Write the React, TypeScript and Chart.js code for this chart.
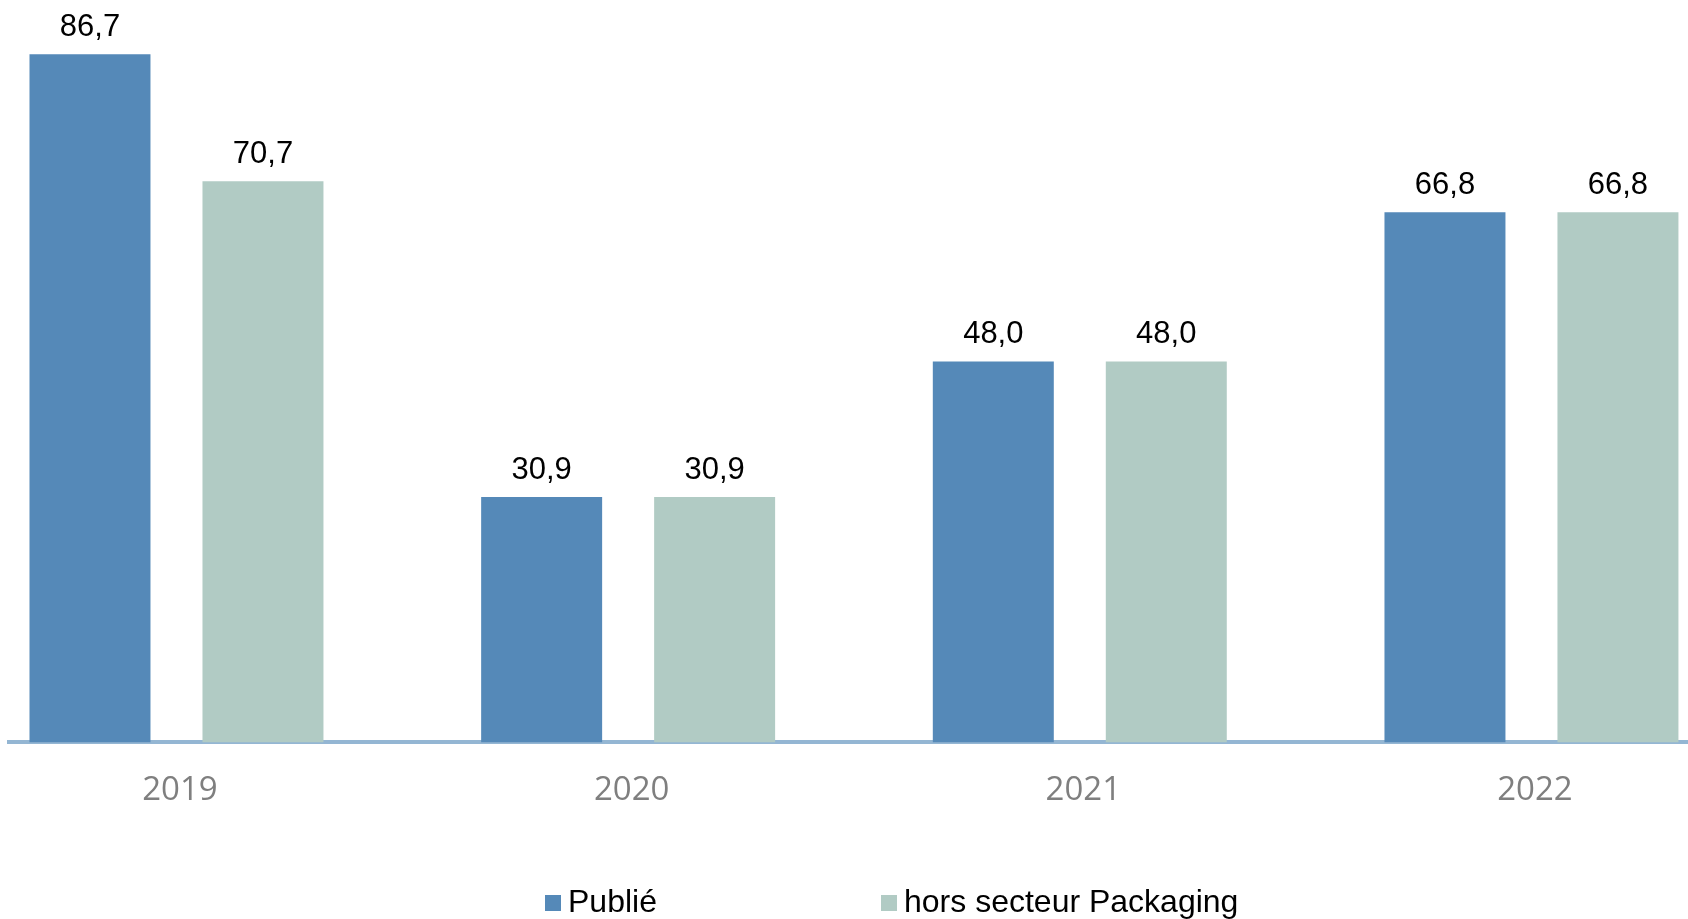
import React, { useEffect, useRef } from "react";
import { Chart, registerables } from "chart.js";

Chart.register(...registerables);

const categories = ["2019", "2020", "2021", "2022"];
const seriesNames = ["Publié", "hors secteur Packaging"];
const publieValues = [86.7, 30.9, 48.0, 66.8];
const horsPackagingValues = [70.7, 30.9, 48.0, 66.8];

const BLUE = "#5589B8";
const GREEN = "#B1CBC4";
const AXIS = "#94B6D3";

const fmt = (v: number) => v.toFixed(1).replace(".", ",");

const dataLabelsPlugin = {
  id: "dataLabels",
  afterDatasetsDraw(chart: any) {
    const ctx = chart.ctx;
    ctx.save();
    ctx.font = '31px "Liberation Sans", Arial, sans-serif';
    ctx.fillStyle = "#000000";
    ctx.textAlign = "center";
    ctx.textBaseline = "alphabetic";
    chart.data.datasets.forEach((ds: any, di: number) => {
      const meta = chart.getDatasetMeta(di);
      meta.data.forEach((el: any, i: number) => {
        const v = ds.data[i].y;
        ctx.fillText(fmt(v), el.x, el.y - 18.5);
      });
    });
    ctx.restore();
  },
};

const legendPlugin = {
  id: "customLegend",
  afterDraw(chart: any) {
    const ctx = chart.ctx;
    const items = [
      { label: seriesNames[0], color: BLUE, x: 545 },
      { label: seriesNames[1], color: GREEN, x: 881 },
    ];
    ctx.save();
    ctx.font = '32px "Liberation Sans", Arial, sans-serif';
    ctx.textAlign = "left";
    ctx.textBaseline = "alphabetic";
    items.forEach((it) => {
      ctx.fillStyle = it.color;
      ctx.fillRect(it.x, 895, 16, 16);
      ctx.fillStyle = "#000000";
      ctx.fillText(it.label, it.x + 23, 912);
    });
    ctx.restore();
  },
};

export default function App() {
  const ref = useRef<HTMLCanvasElement | null>(null);

  useEffect(() => {
    if (!ref.current) return;
    const chart = new Chart(ref.current, {
      type: "bar",
      data: {
        datasets: [
          {
            label: seriesNames[0],
            data: publieValues.map((v, i) => ({ x: i, y: v })),
            backgroundColor: BLUE,
            borderWidth: 0,
            categoryPercentage: 0.766,
            barPercentage: 0.6994,
          },
          {
            label: seriesNames[1],
            data: horsPackagingValues.map((v, i) => ({ x: i, y: v })),
            backgroundColor: GREEN,
            borderWidth: 0,
            categoryPercentage: 0.766,
            barPercentage: 0.6994,
          },
        ],
      },
      options: {
        responsive: false,
        animation: false,
        layout: { padding: { top: 28, left: 9, right: 0, bottom: 81 } },
        plugins: {
          legend: { display: false },
          tooltip: { enabled: false },
        },
        scales: {
          x: {
            type: "linear",
            bounds: "data",
            offset: false,
            min: -0.3708,
            max: 3.3466,
            z: 1,
            grid: { display: false, drawTicks: false },
            border: { display: true, color: AXIS, width: 4 },
            afterBuildTicks: (scale: any) => {
              scale.ticks = categories.map((_, i) => ({ value: i }));
            },
            ticks: {
              autoSkip: false,
              maxRotation: 0,
              padding: 28,
              labelOffset: 3.5,
              color: "#7F7F7F",
              font: { family: '"Open Sans", "Noto Sans", sans-serif', size: 33 },
              callback: (v: any) => categories[Math.round(Number(v))] ?? "",
            },
          },
          y: {
            display: false,
            min: 0,
            max: 90,
          },
        },
      },
      plugins: [dataLabelsPlugin, legendPlugin],
    } as any);
    return () => chart.destroy();
  }, []);

  return (
    <div style={{ position: "absolute", left: 0, top: 0, width: 1688, height: 919, background: "#ffffff" }}>
      <canvas ref={ref} width={1688} height={919} style={{ width: 1688, height: 919, display: "block" }} />
    </div>
  );
}
